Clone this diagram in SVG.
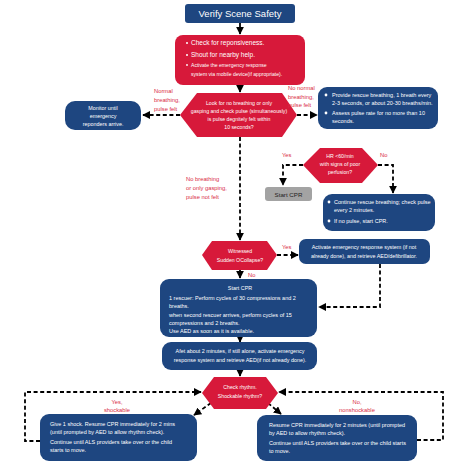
<svg xmlns="http://www.w3.org/2000/svg" width="474" height="474" viewBox="0 0 474 474">
<defs>
<marker id="ah" viewBox="0 0 10 10" refX="9" refY="5" markerWidth="4.4" markerHeight="4.4" orient="auto" markerUnits="strokeWidth">
<path d="M0,0 L10,5 L0,10 z" fill="#000"/>
</marker>
<style>
text{font-family:"Liberation Sans",Arial,sans-serif;}
.blue{fill:#1e4680;}
.red{fill:#d7193a;}
.gray{fill:#a3a3a3;}
.w{fill:#fff;font-size:5.5px;}
.wc{fill:#fff;font-size:5.4px;text-anchor:middle;}
.hx{fill:#fff;font-size:5.2px;text-anchor:middle;}
.lbl{fill:#d92b45;font-size:5.8px;}
.lblc{fill:#d92b45;font-size:5.8px;text-anchor:middle;}
.dash{fill:none;stroke:#000;stroke-width:1.8;stroke-dasharray:4,2.6;}
.solid{fill:none;stroke:#000;stroke-width:1.8;}
</style>
</defs>
<rect width="474" height="474" fill="#fff"/>

<g id="connectors">
<path class="solid" d="M240,23 V34" marker-end="url(#ah)"/>
<path class="solid" d="M240,85 V92" marker-end="url(#ah)"/>
<path class="dash" d="M180,115 H143" marker-end="url(#ah)"/>
<path class="dash" d="M297,115 H317" marker-end="url(#ah)"/>
<path class="dash" d="M303,165 H283 V185" marker-end="url(#ah)"/>
<path class="dash" d="M378,165 H393 V193" marker-end="url(#ah)"/>
<path class="dash" d="M240,137 V240" marker-end="url(#ah)"/>
<path class="dash" d="M277,255 H298" marker-end="url(#ah)"/>
<path class="dash" d="M380,264 V307 H319" marker-end="url(#ah)"/>
<path class="solid" d="M240,270 V278" marker-end="url(#ah)"/>
<path class="solid" d="M240,337 V342" marker-end="url(#ah)"/>
<path class="solid" d="M240,370 V376" marker-end="url(#ah)"/>
<path class="dash" d="M211,403 L194,415" marker-end="url(#ah)"/>
<path class="dash" d="M268,403 L281,414" marker-end="url(#ah)"/>
<path class="dash" d="M40,441 H25 V392 H201" marker-end="url(#ah)"/>
<path class="dash" d="M417,440 H443 V392 H279" marker-end="url(#ah)"/>
</g>

<g id="verify">
<rect class="blue" x="185" y="4" width="110" height="19" rx="3"/>
<text x="240" y="17" fill="#fff" font-size="9.5" text-anchor="middle">Verify Scene Safety</text>
</g>

<g id="check">
<rect class="red" x="175" y="35" width="130" height="50" rx="8"/>
<g fill="#fff">
<circle cx="187" cy="43" r="1"/>
<circle cx="187" cy="55" r="1"/>
<circle cx="187" cy="65" r="0.9"/>
</g>
<text x="191" y="45" fill="#fff" font-size="6.5">Check for reponsiveness.</text>
<text x="191" y="57" fill="#fff" font-size="6.5">Shout for nearby help.</text>
<text x="191" y="67" fill="#fff" font-size="5.1">Activate the emergency response</text>
<text x="191" y="76" fill="#fff" font-size="5.1">system via mobile device(if appropriate).</text>
</g>

<g id="look">
<polygon class="red" points="180,115 197,93 282,93 297,115 282,137 197,137"/>
<text class="hx" x="239" y="105">Look for no breathing or only</text>
<text class="hx" x="239" y="113">gasping and check pulse (simultaneously)</text>
<text class="hx" x="239" y="121">is pulse degnitely felt within</text>
<text class="hx" x="239" y="129">10 seconds?</text>
</g>

<text class="lbl" x="154" y="93">Normal</text>
<text class="lbl" x="154" y="102">breathing,</text>
<text class="lbl" x="154" y="111">pulse felt</text>

<g id="monitor">
<rect class="blue" x="65" y="101" width="76" height="29" rx="10"/>
<text class="wc" x="103" y="110">Monitor until</text>
<text class="wc" x="103" y="118">emergency</text>
<text class="wc" x="103" y="126">reponders arrive.</text>
</g>

<text class="lbl" x="288" y="90">No normal</text>
<text class="lbl" x="288" y="98.5">breathing,</text>
<text class="lbl" x="288" y="107">pulse felt</text>

<g id="rescue">
<rect class="blue" x="318" y="87" width="120" height="42" rx="9"/>
<circle cx="326" cy="95" r="1.4" fill="#fff"/>
<circle cx="326" cy="113" r="1.4" fill="#fff"/>
<text class="w" x="332" y="97">Provide rescue breathing, 1 breath every</text>
<text class="w" x="332" y="105">2-3 seconds, or about 20-30 breaths/min.</text>
<text class="w" x="332" y="115">Assess pulse rate for no more than 10</text>
<text class="w" x="332" y="123">seconds.</text>
</g>

<g id="hr">
<polygon class="red" points="303,165 320,148 362,148 378,165 362,183 320,183"/>
<text class="hx" x="340" y="158">HR &lt;60/min</text>
<text class="hx" x="340" y="166">with signs of poor</text>
<text class="hx" x="340" y="174">perfusion?</text>
</g>
<text class="lbl" x="282" y="157">Yes</text>
<text class="lbl" x="380" y="157">No</text>

<g id="startcpr-small">
<rect class="gray" x="265" y="187" width="47" height="14" rx="3"/>
<text x="288.5" y="196.5" fill="#222" font-size="6.2" text-anchor="middle">Start CPR</text>
</g>

<g id="continue">
<rect class="blue" x="323" y="194" width="112" height="37" rx="9"/>
<circle cx="329" cy="202" r="1.4" fill="#fff"/>
<circle cx="329" cy="221" r="1.4" fill="#fff"/>
<text class="w" x="334" y="204">Continue rescue breathing; check pulse</text>
<text class="w" x="334" y="212">every 2 minutes.</text>
<text class="w" x="334" y="223">If no pulse, start CPR.</text>
</g>

<text class="lbl" x="186" y="181">No breathing</text>
<text class="lbl" x="186" y="190">or only gasping,</text>
<text class="lbl" x="186" y="199">pulse not felt</text>

<g id="witnessed">
<polygon class="red" points="202,255 212,241 267,241 277,255 267,270 212,270"/>
<text class="hx" x="240" y="253">Witnessed</text>
<text class="hx" x="240" y="262">Sudden OCollapse?</text>
</g>
<text class="lbl" x="282" y="249">Yes</text>
<text class="lbl" x="248" y="277">No</text>

<g id="activate">
<rect class="blue" x="299" y="239" width="131" height="25" rx="7"/>
<text class="wc" x="364" y="249">Activate emergency response system (if not</text>
<text class="wc" x="364" y="257.5">already done), and retrieve AED/defibrillator.</text>
</g>

<g id="startcpr">
<rect class="blue" x="160" y="279" width="157" height="58" rx="9"/>
<text class="wc" x="240" y="290">Start CPR</text>
<text class="w" x="169" y="300">1 rescuer: Perform cycles of 30 compressions and 2</text>
<text class="w" x="169" y="308">breaths.</text>
<text class="w" x="169" y="317">when second rescuer arrives, perform cycles of 15</text>
<text class="w" x="169" y="325">compressions and 2 breaths.</text>
<text class="w" x="169" y="333">Use AED as soon as it is available.</text>
</g>

<g id="after">
<rect class="blue" x="162" y="342" width="155" height="28" rx="9"/>
<text class="wc" x="240" y="353">Afet about 2 minutes, if still alone, activate emergency</text>
<text class="wc" x="240" y="362">response system and retrieve AED(if not already done).</text>
</g>

<g id="rhythm">
<polygon class="red" points="202,393 214,377 266,377 278,393 266,409 214,409"/>
<text class="hx" x="240" y="389">Check rhythm.</text>
<text class="hx" x="240" y="398">Shockable rhythm?</text>
</g>
<text class="lblc" x="117" y="404">Yes,</text>
<text class="lblc" x="117" y="412">shockable</text>
<text class="lblc" x="357" y="404">No,</text>
<text class="lblc" x="357" y="412">nonshockable</text>

<g id="shock">
<rect class="blue" x="40" y="414" width="157" height="47" rx="9"/>
<text class="w" x="50" y="426">Give 1 shock. Resume CPR immediately for 2 mins</text>
<text class="w" x="50" y="434">(until prompted by AED to allow rhythm check).</text>
<text class="w" x="50" y="444">Continue until ALS providers take over or the child</text>
<text class="w" x="50" y="452">starts to move.</text>
</g>

<g id="resume">
<rect class="blue" x="257" y="415" width="160" height="46" rx="9"/>
<text class="w" x="269" y="427">Resume CPR immediately for 2 minutes (until prompted</text>
<text class="w" x="269" y="435">by AED to allow rhythm check).</text>
<text class="w" x="269" y="445">Continue until ALS providers take over or the child starts</text>
<text class="w" x="269" y="453">to move.</text>
</g>
</svg>
